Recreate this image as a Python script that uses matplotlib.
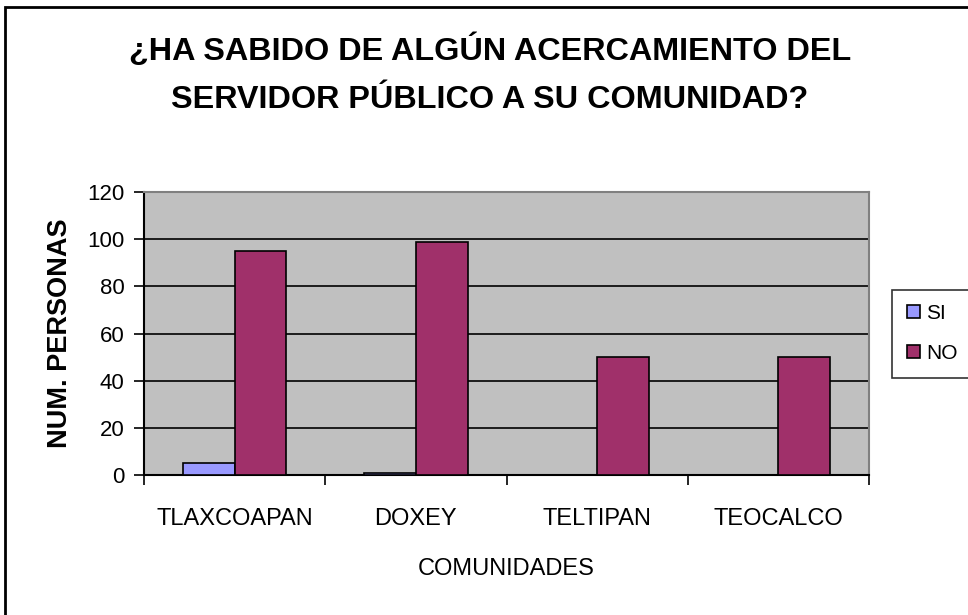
import matplotlib
matplotlib.use("Agg")
import matplotlib.pyplot as plt
import numpy as np
from matplotlib.patches import Rectangle

# data
comunidades = ["TLAXCOAPAN", "DOXEY", "TELTIPAN", "TEOCALCO"]
si = [5, 1, 0, 0]
no = [95, 99, 50, 50]

plt.rcParams['font.family'] = ['Liberation Sans', 'DejaVu Sans']

fig = plt.figure(figsize=(9.68, 6.15), dpi=100)
fig.patch.set_facecolor("white")

# outer chart border
fig.add_artist(Rectangle((5 / 968, -0.01), 1.02, (615 - 7) / 615 + 0.01,
                         transform=fig.transFigure, fill=False,
                         edgecolor="black", linewidth=2))

ax = fig.add_axes([144 / 968, 140 / 615, 725 / 968, 283 / 615])
ax.set_facecolor("#C0C0C0")

x = np.arange(len(comunidades))
w = 1 / 3.5
ax.bar(x - w / 2, si, w, color="#9999FF", edgecolor="black", linewidth=1.2,
       label="SI", zorder=3)
ax.bar(x + w / 2, no, w, color="#A0306A", edgecolor="black", linewidth=1.2,
       label="NO", zorder=3)

ax.set_xlim(-0.5, len(comunidades) - 0.5)
ax.set_ylim(0, 120)
ax.set_yticks(range(0, 121, 20))
ax.yaxis.grid(True, color="black", linewidth=1.2, zorder=1)
ax.set_axisbelow(True)

ax.set_xticks(x)
ax.set_xticklabels(comunidades)
ax.set_xticks(np.arange(-0.5, len(comunidades), 1), minor=True)
ax.tick_params(axis="x", which="major", length=0, pad=24, labelsize=17)
ax.tick_params(axis="x", which="minor", length=7, width=1.2, direction="out")
ax.tick_params(axis="y", length=7, width=1.2, direction="out", pad=7, labelsize=16)

for s in ["top", "right"]:
    ax.spines[s].set_color("#808080")
    ax.spines[s].set_linewidth(1.5)
for s in ["left", "bottom"]:
    ax.spines[s].set_color("black")
    ax.spines[s].set_linewidth(1.5)

ax.set_ylabel("NUM. PERSONAS", fontsize=19.5, fontweight="bold", labelpad=10)
ax.set_xlabel("COMUNIDADES", fontsize=17, labelpad=20)

fig.text(0.506, 0.945, "¿HA SABIDO DE ALGÚN ACERCAMIENTO DEL\nSERVIDOR PÚBLICO A SU COMUNIDAD?",
         ha="center", va="top", fontsize=23.3, fontweight="bold", linespacing=1.75)

leg = ax.legend(loc="center left", bbox_to_anchor=(1.018, 0.5), frameon=True,
                fancybox=False, edgecolor="black", fontsize=15,
                handlelength=0.6, handleheight=0.6, handletextpad=0.3,
                labelspacing=1.0, borderpad=0.7)
leg.get_frame().set_linewidth(1.2)

fig.savefig("out.png", dpi=100)
